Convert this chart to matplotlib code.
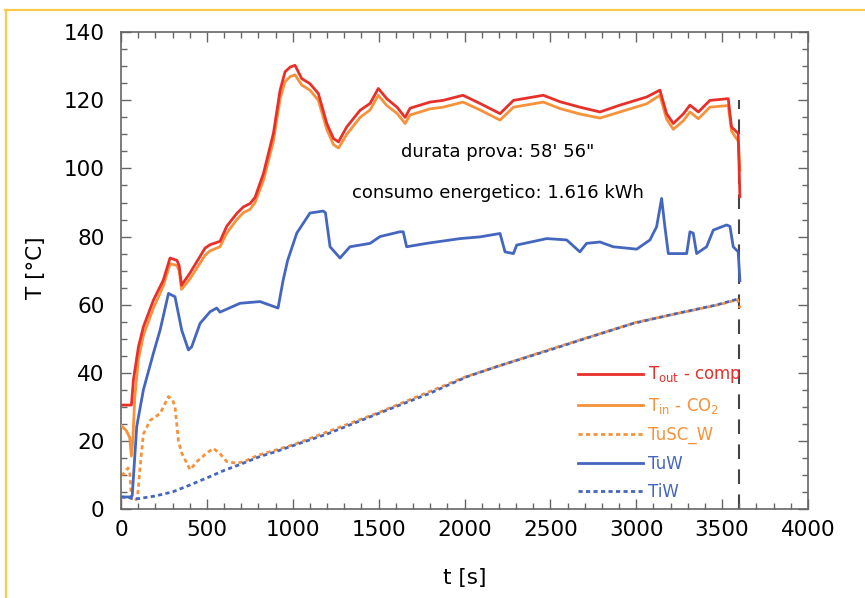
import matplotlib
matplotlib.use("Agg")
import matplotlib.pyplot as plt
from matplotlib.lines import Line2D
from matplotlib.ticker import MultipleLocator

# T_out - comp (red)
t_out_t = [0, 60, 72, 101, 130, 188, 246, 285, 325, 338, 352, 400, 489, 518, 576, 615,
           674, 712, 751, 780, 829, 887, 926, 955, 985, 1013, 1052, 1100, 1149, 1198,
           1237, 1266, 1314, 1392, 1450, 1498, 1547, 1607, 1654, 1683, 1799, 1875, 1991,
           2090, 2207, 2285, 2459, 2556, 2672, 2789, 2905, 3061, 3138, 3177, 3216, 3274,
           3313, 3362, 3429, 3536, 3555, 3594, 3604]
t_out = [30.5, 30.5, 38, 47.6, 53.5, 61.3, 67.2, 73.7, 73, 71.5, 65.7, 69.2, 76.6, 77.6,
         78.6, 83, 86.8, 88.7, 89.7, 91.5, 98.5, 110.3, 123, 128.4, 129.8, 130.3, 126.4,
         124.9, 122, 113.2, 108.8, 107.8, 112.2, 117.1, 119.1, 123.5, 120.5, 118, 115,
         117.7, 119.5, 120, 121.5, 119.1, 116.1, 120, 121.5, 119.6, 118, 116.6, 118.6,
         121, 123, 116.1, 113.2, 116, 118.6, 116.6, 120, 120.5, 112.2, 110.3, 91.7]

# T_in - CO2 (orange)
t_in_t = [0, 30, 50, 60, 68, 80, 101, 130, 188, 246, 285, 325, 338, 352, 400, 489, 518,
          576, 615, 674, 712, 751, 780, 829, 887, 926, 955, 985, 1013, 1052, 1100, 1149,
          1198, 1237, 1266, 1314, 1392, 1450, 1498, 1547, 1607, 1654, 1683, 1799, 1875,
          1991, 2090, 2207, 2285, 2459, 2556, 2672, 2789, 2905, 3061, 3138, 3177, 3216,
          3274, 3313, 3362, 3429, 3536, 3555, 3594, 3604]
t_in = [24.5, 23, 21, 15.5, 20, 33, 44, 51, 59, 65.5, 72, 71.5, 70, 64.5, 67.5, 74.5,
        75.8, 77, 81, 85, 87, 88, 90, 96.5, 108, 120.5, 125.5, 127, 127.5, 124.5, 123,
        120, 111.5, 107, 106, 110, 115, 117.2, 121.5, 118.5, 116.2, 113.2, 115.7, 117.5,
        118, 119.5, 117.2, 114.2, 118, 119.5, 117.6, 116, 114.8, 116.6, 119, 121.5, 114.5,
        111.5, 114, 116.6, 114.6, 118, 118.5, 111, 108, 99.5]

# TuSC_W (orange dotted)
tusc_t = [0, 20, 40, 50, 60, 75, 95, 110, 130, 169, 227, 276, 300, 314, 334, 353, 402,
          441, 490, 537, 580, 615, 674, 720, 800, 1000, 1500, 2000, 2500, 3000, 3500,
          3590, 3604]
tusc = [10, 10.5, 12, 11, 3, 2.5, 3, 12, 22, 26, 28, 33, 32, 30, 20, 16.4, 11.5, 13.9,
        16, 17.8, 16, 13.9, 13.4, 14, 15.8, 18.8, 28.3, 38.7, 46.9, 54.8, 60.2, 61.5, 59]

# TuW (blue)
tuw_t = [0, 60, 65, 91, 130, 188, 227, 276, 314, 353, 392, 411, 460, 518, 557, 576, 693,
         809, 914, 943, 970, 1023, 1100, 1177, 1190, 1217, 1275, 1333, 1450, 1508, 1624,
         1643, 1663, 1779, 1974, 2090, 2207, 2236, 2285, 2304, 2479, 2595, 2672, 2711,
         2789, 2866, 3003, 3080, 3119, 3148, 3167, 3187, 3294, 3313, 3332, 3352, 3410,
         3449, 3526, 3546, 3565, 3594, 3604]
tuw = [3.5, 3.5, 4, 24.2, 35, 45.7, 52.5, 63.3, 62.3, 52.5, 46.7, 47.6, 54.5, 57.9, 59,
       57.8, 60.4, 60.9, 59, 67, 73, 81, 86.9, 87.5, 87, 77, 73.7, 77, 78, 80, 81.4,
       81.4, 77, 78, 79.4, 79.9, 80.9, 75.5, 75, 77.5, 79.4, 79, 75.5, 78, 78.4, 77,
       76.3, 79, 82.9, 91.2, 82.9, 75, 75, 81.4, 81, 75, 77, 81.9, 83.4, 83, 77, 75.5, 67]

# TiW (blue dotted)
tiw_t = [0, 50, 65, 100, 200, 300, 400, 518, 600, 700, 809, 900, 1042, 1200, 1527, 1800,
         2013, 2200, 2498, 2700, 2983, 3200, 3468, 3604]
tiw = [3.5, 3.3, 3, 3, 3.8, 5, 7, 9.5, 11.3, 13.2, 15.4, 16.8, 19.3, 22, 28.6, 34, 38.8,
       42, 46.7, 50, 54.5, 57, 59.9, 61.8]

t_end = 3600

red = "#E8302A"
orange = "#F7923A"
blue = "#4466BE"
dots = (0, (1.5, 1.2))

fig = plt.figure(figsize=(8.65, 5.98), dpi=100)
ax = fig.add_axes([0.140, 0.149, 0.794, 0.797])

ax.plot(tusc_t, tusc, color=orange, lw=2, ls=dots, label="TuSC_W", zorder=2)
ax.plot(tiw_t, tiw, color=blue, lw=2, ls=dots, label="TiW", zorder=3)
ax.plot(tuw_t, tuw, color=blue, lw=2, label="TuW", zorder=4)
ax.plot(t_in_t, t_in, color=orange, lw=2, label=r"T$_{\rm in}$ - CO$_2$", zorder=5)
ax.plot(t_out_t, t_out, color=red, lw=2, label=r"T$_{\rm out}$ - comp", zorder=6)
ax.plot([t_end, t_end], [0, 120], color="#444444", lw=1.5, ls=(0, (7, 5)), zorder=1)

ax.set_xlim(0, 4000)
ax.set_ylim(0, 140)
ax.xaxis.set_major_locator(MultipleLocator(500))
ax.xaxis.set_minor_locator(MultipleLocator(100))
ax.yaxis.set_major_locator(MultipleLocator(20))
ax.yaxis.set_minor_locator(MultipleLocator(5))
ax.tick_params(which="both", direction="in", top=True, right=True, color="#666666")
ax.tick_params(which="major", length=7, width=1)
ax.tick_params(which="minor", length=4, width=1)
ax.tick_params(axis="x", labelsize=15.5, pad=8)
ax.tick_params(axis="y", labelsize=15.5, pad=12)
for s in ax.spines.values():
    s.set_color("#666666")
    s.set_linewidth(1.2)

fig.text(36 / 865, 1 - 268 / 598, "T [°C]", rotation=90, ha="center", va="center",
         fontsize=15.5)
fig.text(465 / 865, 1 - 578 / 598, "t [s]", ha="center", va="center", fontsize=15.5)

ax.text(2195, 104.9, "durata prova: 58' 56\"", ha="center", va="center", fontsize=13)
ax.text(2195, 92.7, "consumo energetico: 1.616 kWh", ha="center", va="center", fontsize=13)

h, l = ax.get_legend_handles_labels()
order = [4, 3, 0, 2, 1]
ax.legend([h[i] for i in order], [l[i] for i in order], loc="lower left",
          bbox_to_anchor=(0.643, -0.015), frameon=False, labelcolor="linecolor",
          handlelength=3.9, handletextpad=0.3, labelspacing=0.62, fontsize=12)

# yellow page frame
fig.add_artist(Line2D([5 / 865, 1], [1 - 10 / 598, 1 - 10 / 598], color="#FFC94D",
                      lw=1.6, transform=fig.transFigure))
fig.add_artist(Line2D([6 / 865, 6 / 865], [0, 1 - 10 / 598], color="#FFC94D",
                      lw=1.6, transform=fig.transFigure))

fig.savefig("out.png", dpi=100)
